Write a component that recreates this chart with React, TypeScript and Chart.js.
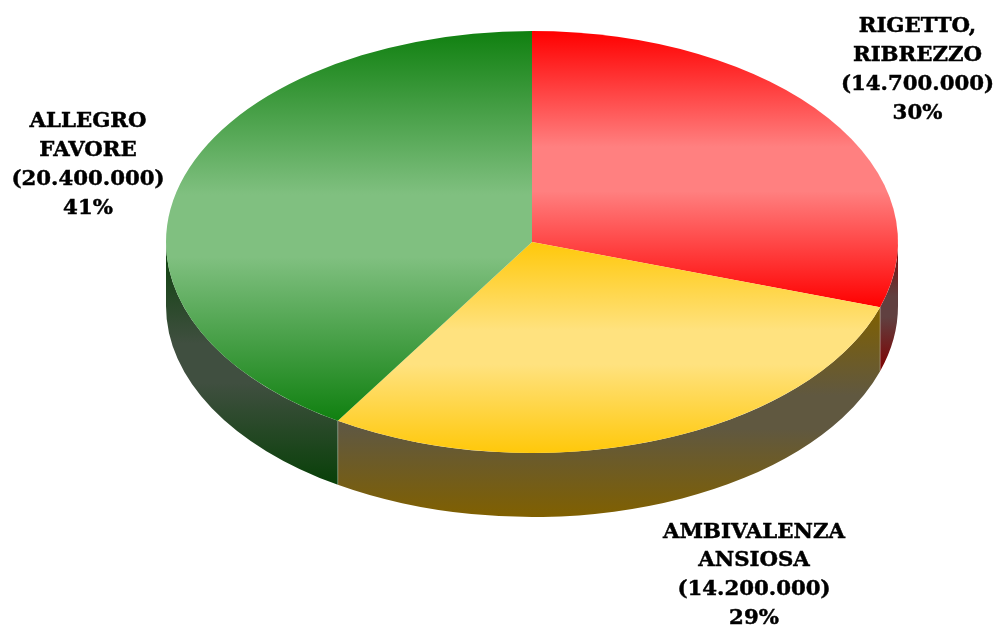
import React, { useEffect, useRef } from "react";
import { Chart, registerables } from "chart.js";

Chart.register(...registerables);

const categories = [["RIGETTO,", "RIBREZZO"], ["AMBIVALENZA", "ANSIOSA"], ["ALLEGRO", "FAVORE"]];
const amounts = ["(14.700.000)", "(14.200.000)", "(20.400.000)"];
const shares = [30, 28.9, 41.1];
const topEdgeColors = ["#ff0000", "#ffc80a", "#108010"];
const topMidColors = ["#ff8080", "#ffe27f", "#80c080"];
const wallEdgeColors = ["#800000", "#806000", "#084008"];
const wallMidColors = ["#604040", "#605840", "#404f40"];
const labelCentres = [[917.5, 27], [754, 532.5], [88, 122]];

const CX = 532;
const CY = 242;
const RX = 366;
const RY = 211;
const DEPTH = 64;
const LINE = 28.9;
const TAU = Math.PI * 2;
const FONT_WIDEN = 1.09;

function sinRange(a0: number, a1: number) {
  let lo = Math.min(Math.sin(a0), Math.sin(a1));
  let hi = Math.max(Math.sin(a0), Math.sin(a1));
  for (let k = -2; k <= 2; k++) {
    const up = -Math.PI / 2 + k * TAU;
    const down = Math.PI / 2 + k * TAU;
    if (up > a0 && up < a1) lo = -1;
    if (down > a0 && down < a1) hi = 1;
  }
  return [lo, hi];
}

function bandStops(grad: CanvasGradient, edge: string, mid: string) {
  grad.addColorStop(0, edge);
  grad.addColorStop(0.42, mid);
  grad.addColorStop(0.58, mid);
  grad.addColorStop(1, edge);
}

const pie3d = {
  id: "pie3d",
  beforeDatasetsDraw(chart: any) {
    const ctx = chart.ctx;
    const arcs = chart.getDatasetMeta(0).data;
    // side walls, in page coordinates
    arcs.forEach((arc: any, i: number) => {
      const a0 = Math.max(arc.startAngle, 0);
      const a1 = Math.min(arc.endAngle, Math.PI);
      if (a1 <= a0) return;
      const [lo, hi] = sinRange(a0, a1);
      const grad = ctx.createLinearGradient(0, CY + lo * RY, 0, CY + hi * RY + DEPTH);
      bandStops(grad, wallEdgeColors[i], wallMidColors[i]);
      ctx.beginPath();
      ctx.ellipse(CX, CY, RX, RY, 0, a0, a1);
      ctx.ellipse(CX, CY + DEPTH, RX, RY, 0, a1, a0, true);
      ctx.closePath();
      ctx.fillStyle = grad;
      ctx.fill();
      if (a0 > 0) {
        const x = CX + RX * Math.cos(a0);
        const y = CY + RY * Math.sin(a0);
        ctx.beginPath();
        ctx.moveTo(x, y);
        ctx.lineTo(x, y + DEPTH);
        ctx.strokeStyle = "rgba(255,255,255,0.3)";
        ctx.lineWidth = 1;
        ctx.stroke();
      }
    });
    // top face gradients, in the arcs' own coordinates
    arcs.forEach((arc: any, i: number) => {
      const [lo0, hi0] = sinRange(arc.startAngle, arc.endAngle);
      const lo = Math.min(lo0, 0);
      const hi = Math.max(hi0, 0);
      const grad = ctx.createLinearGradient(0, arc.y + lo * arc.outerRadius, 0, arc.y + hi * arc.outerRadius);
      bandStops(grad, topEdgeColors[i], topMidColors[i]);
      arc.options = { ...arc.options, backgroundColor: grad, borderWidth: 0 };
    });
    const first = arcs[0];
    ctx.save();
    ctx.translate(CX, CY);
    ctx.scale(RX / first.outerRadius, RY / first.outerRadius);
    ctx.translate(-first.x, -first.y);
  },
  afterDatasetsDraw(chart: any) {
    const ctx = chart.ctx;
    ctx.restore();
    ctx.fillStyle = "#000000";
    ctx.strokeStyle = "#000000";
    ctx.lineWidth = 0.45;
    ctx.font = 'bold 19.5px "DejaVu Serif"';
    ctx.textAlign = "center";
    ctx.textBaseline = "middle";
    categories.forEach((name, i) => {
      [...name, amounts[i], Math.round(shares[i]) + "%"].forEach((text, l) => {
        ctx.save();
        ctx.translate(labelCentres[i][0], labelCentres[i][1] + l * LINE);
        ctx.scale(FONT_WIDEN, 1);
        ctx.fillText(text, 0, 0);
        ctx.strokeText(text, 0, 0);
        ctx.restore();
      });
    });
  },
};

export default function App() {
  const ref = useRef<HTMLCanvasElement | null>(null);
  useEffect(() => {
    const chart = new Chart(ref.current as HTMLCanvasElement, {
      type: "pie",
      data: {
        labels: categories.map((c) => c.join(" ")),
        datasets: [{ data: shares, backgroundColor: topEdgeColors, borderWidth: 0, clip: false } as any],
      },
      options: {
        animation: false,
        responsive: false,
        plugins: { legend: { display: false }, tooltip: { enabled: false } },
      },
      plugins: [pie3d],
    });
    return () => chart.destroy();
  }, []);
  return (
    <div style={{ position: "absolute", left: 0, top: 0, width: 997, height: 628, background: "#ffffff" }}>
      <canvas ref={ref} width={997} height={628} style={{ display: "block" }} />
    </div>
  );
}
